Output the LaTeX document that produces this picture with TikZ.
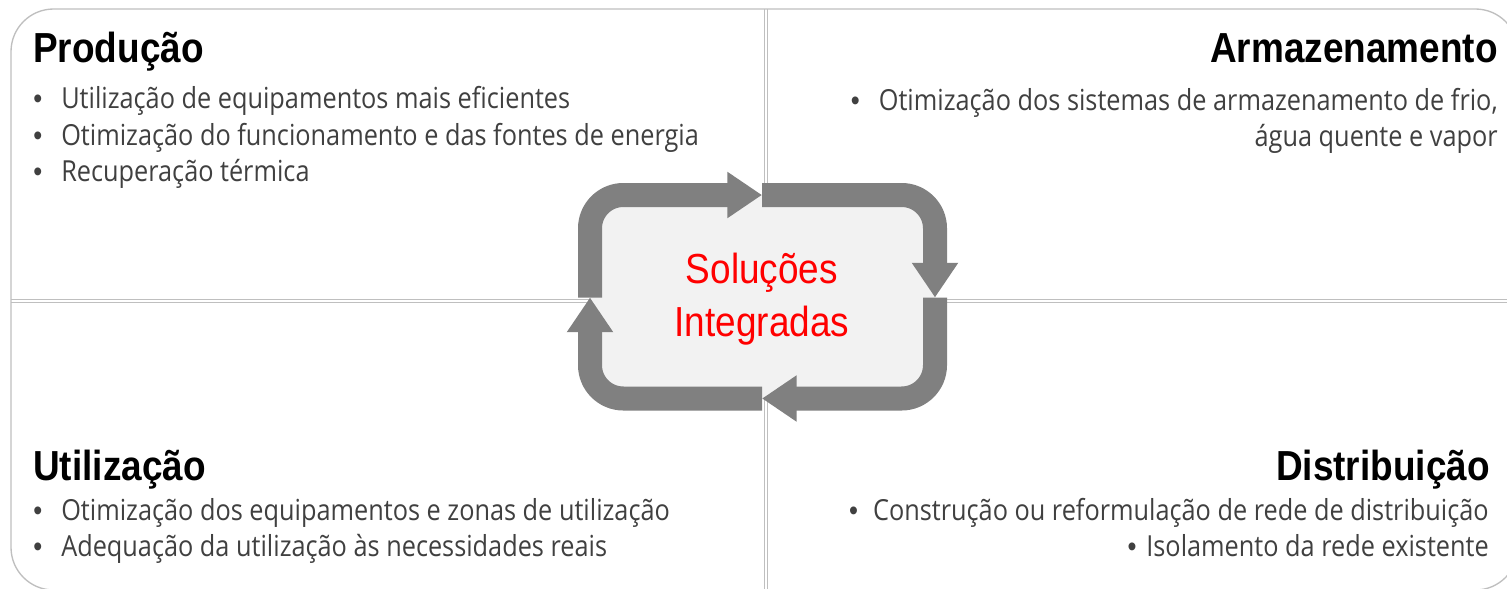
\documentclass[tikz,border=0pt]{standalone}
\usepackage{fontspec}
\setmainfont{Open Sans}[FakeStretch=0.872]
\newfontfamily\headfont{Liberation Sans}[FakeStretch=0.88]
\usetikzlibrary{arrows.meta}
\definecolor{framegray}{HTML}{BFBFBF}
\definecolor{trackgray}{HTML}{808080}
\definecolor{boxgray}{HTML}{F2F2F2}
\definecolor{textgray}{HTML}{404040}
\newcommand{\pnt}[1][21pt]{\makebox[#1][l]{\headfont •}}

\begin{document}
\begin{tikzpicture}[x=0.75pt, y=-0.75pt,
    quad/.style={draw=framegray, line width=1pt},
    head/.style={inner sep=0pt, font=\headfont\bfseries\fontsize{31.5pt}{38pt}\selectfont},
    item/.style={inner sep=0pt, text=textgray, font=\fontsize{21.75pt}{28pt}\selectfont},
    soltext/.style={inner sep=0pt, text=red, anchor=base, font=\headfont\fontsize{31.5pt}{40pt}\selectfont},
    track/.style={draw=trackgray, line width=18pt, rounded corners=25pt, -{Triangle[width=33pt,length=26pt]}}]
        \path[use as bounding box] (0,0) rectangle (1507,589);
        \clip (0,0) rectangle (1507,589);
        \fill[white] (0,0) rectangle (1507,589);

        % frame and the two double dividers
        \draw[quad, rounded corners=32pt] (11,9) rectangle (1518,590);
        \draw[quad] (764.3,9) -- (764.3,590);
        \draw[quad] (767.7,9) -- (767.7,590);
        \draw[quad] (11,299.3) -- (1518,299.3);
        \draw[quad] (11,302.7) -- (1518,302.7);

        % quadrant texts
        \node[head, anchor=base west] (prod) at (33,62) {Produção};
        \node[item, anchor=base west] (prod1) at (33,108) {\pnt Utilização de equipamentos mais eficientes};
        \node[item, anchor=base west] (prod2) at (33,145) {\pnt Otimização do funcionamento e das fontes de energia};
        \node[item, anchor=base west] (prod3) at (33,181.5) {\pnt Recuperação térmica};

        \node[head, anchor=base east] (arm) at (1498,62) {Armazenamento};
        \node[item, anchor=base east] (arm1) at (1498,110) {\pnt Otimização dos sistemas de armazenamento de frio,};
        \node[item, anchor=base east] (arm2) at (1498,146.5) {água quente e vapor};

        \node[head, anchor=base west] (util) at (33,480) {Utilização};
        \node[item, anchor=base west] (util1) at (33,520) {\pnt Otimização dos equipamentos e zonas de utilização};
        \node[item, anchor=base west] (util2) at (33,556) {\pnt Adequação da utilização às necessidades reais};

        \node[head, anchor=base east] (dist) at (1490,480) {Distribuição};
        \node[item, anchor=base east] (dist1) at (1489,520) {\pnt[18pt]Construção ou reformulação de rede de distribuição};
        \node[item, anchor=base east] (dist2) at (1489,556.5) {\pnt[14pt]Isolamento da rede existente};

        % central cycle
        \coordinate (ctop) at (762,195);
        \coordinate (crgt) at (935,297.5);
        \coordinate (cbot) at (762,398.5);
        \coordinate (clft) at (590,297.5);
        \fill[boxgray, rounded corners=25pt] (590,195) rectangle (935,398.5);

        \draw[track] (clft) |- (ctop);
        \draw[track] (ctop) -| (crgt);
        \draw[track] (crgt) |- (cbot);
        \draw[track] (cbot) -| (clft);

        \node[soltext] (sol1) at (762,283) {Soluções};
        \node[soltext] (sol2) at (762,336.7) {Integradas};
    \end{tikzpicture}
\end{document}
